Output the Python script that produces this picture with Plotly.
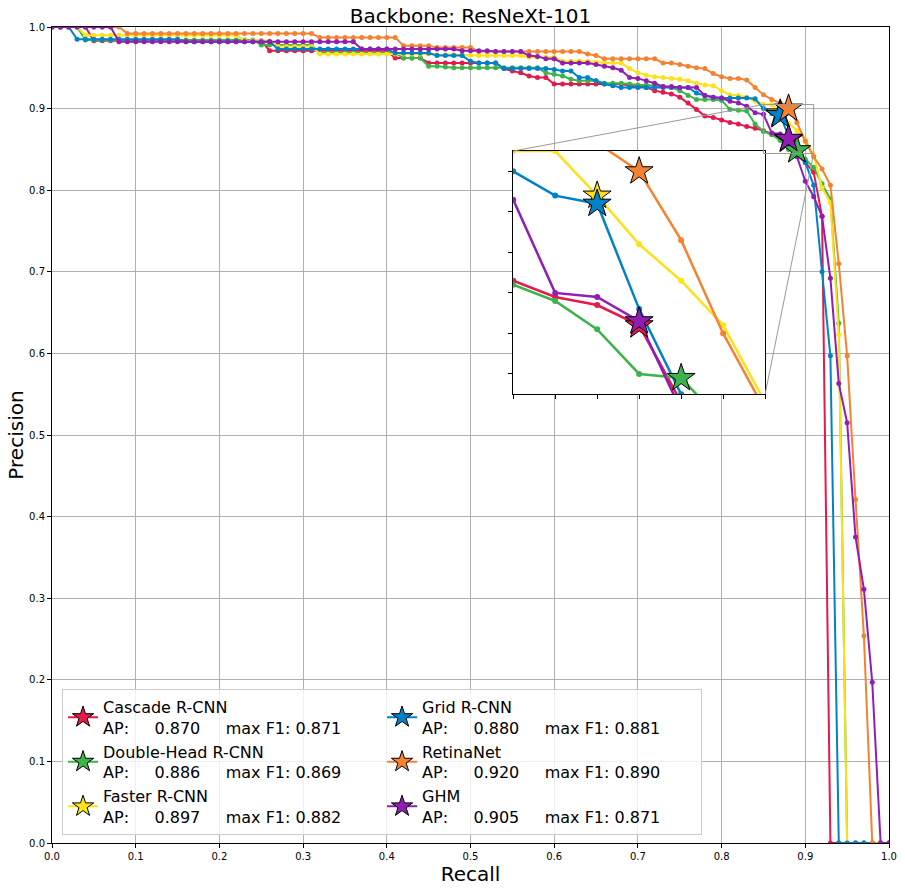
import plotly.graph_objects as go

# recall thresholds (COCO-style 101 points)
recall = [i / 100 for i in range(101)]

# precision, one value per recall threshold
cascade_rcnn = [
    1.0, 1.0, 1.0, 1.0, 1.0, 0.983, 0.983, 0.983, 0.983, 0.983,
    0.983, 0.983, 0.983, 0.983, 0.983, 0.983, 0.983, 0.983, 0.983, 0.983,
    0.983, 0.983, 0.983, 0.983, 0.983, 0.983, 0.971, 0.971, 0.971, 0.971,
    0.971, 0.971, 0.971, 0.971, 0.971, 0.971, 0.971, 0.971, 0.971, 0.971,
    0.971, 0.962, 0.962, 0.962, 0.962, 0.956, 0.956, 0.956, 0.956, 0.956,
    0.956, 0.956, 0.956, 0.956, 0.949, 0.946, 0.944, 0.940, 0.938, 0.938,
    0.930, 0.930, 0.930, 0.930, 0.930, 0.930, 0.930, 0.930, 0.930, 0.928,
    0.927, 0.926, 0.922, 0.920, 0.918, 0.914, 0.907, 0.899, 0.891, 0.889,
    0.886, 0.883, 0.881, 0.878, 0.876, 0.873, 0.869, 0.867, 0.862, 0.843,
    0.834, 0.822, 0.768, 0.0, 0.0, 0.0, 0.0, 0.0, 0.0, 0.0,
    0.0,
]
double_head_rcnn = [
    1.0, 1.0, 1.0, 1.0, 0.984, 0.984, 0.984, 0.984, 0.984, 0.984,
    0.984, 0.984, 0.984, 0.984, 0.984, 0.984, 0.984, 0.984, 0.984, 0.984,
    0.984, 0.984, 0.984, 0.984, 0.984, 0.978, 0.978, 0.978, 0.978, 0.978,
    0.978, 0.978, 0.968, 0.968, 0.968, 0.968, 0.968, 0.968, 0.968, 0.968,
    0.968, 0.968, 0.962, 0.962, 0.962, 0.952, 0.952, 0.951, 0.950, 0.950,
    0.950, 0.950, 0.950, 0.950, 0.950, 0.950, 0.950, 0.950, 0.950, 0.944,
    0.942, 0.940, 0.936, 0.934, 0.934, 0.934, 0.931, 0.931, 0.931, 0.930,
    0.929, 0.929, 0.928, 0.927, 0.926, 0.922, 0.916, 0.911, 0.911, 0.911,
    0.910, 0.899, 0.898, 0.897, 0.881, 0.872, 0.868, 0.861, 0.850, 0.849,
    0.838, 0.828, 0.808, 0.789, 0.637, 0.0, 0.0, 0.0, 0.0, 0.0,
    0.0,
]
faster_rcnn = [
    1.0, 1.0, 1.0, 1.0, 0.990, 0.990, 0.990, 0.990, 0.990, 0.990,
    0.990, 0.990, 0.990, 0.990, 0.990, 0.990, 0.990, 0.990, 0.990, 0.990,
    0.990, 0.990, 0.990, 0.983, 0.983, 0.983, 0.983, 0.976, 0.976, 0.976,
    0.976, 0.976, 0.967, 0.967, 0.967, 0.967, 0.967, 0.967, 0.967, 0.967,
    0.967, 0.967, 0.967, 0.967, 0.967, 0.967, 0.966, 0.966, 0.966, 0.966,
    0.965, 0.965, 0.965, 0.965, 0.965, 0.965, 0.965, 0.963, 0.963, 0.963,
    0.963, 0.958, 0.958, 0.958, 0.958, 0.957, 0.956, 0.956, 0.956, 0.949,
    0.944, 0.941, 0.939, 0.938, 0.937, 0.936, 0.934, 0.931, 0.929, 0.928,
    0.922, 0.917, 0.916, 0.914, 0.909, 0.905, 0.905, 0.894, 0.882, 0.873,
    0.862, 0.843, 0.803, 0.785, 0.623, 0.0, 0.0, 0.0, 0.0, 0.0,
    0.0,
]
grid_rcnn = [
    1.0, 1.0, 1.0, 0.985, 0.985, 0.985, 0.985, 0.985, 0.985, 0.985,
    0.985, 0.985, 0.985, 0.985, 0.985, 0.985, 0.982, 0.982, 0.982, 0.982,
    0.982, 0.982, 0.982, 0.982, 0.982, 0.982, 0.982, 0.973, 0.973, 0.973,
    0.973, 0.973, 0.973, 0.973, 0.973, 0.973, 0.973, 0.973, 0.973, 0.973,
    0.973, 0.968, 0.968, 0.968, 0.968, 0.968, 0.965, 0.965, 0.965, 0.965,
    0.958, 0.956, 0.956, 0.956, 0.949, 0.949, 0.949, 0.949, 0.949, 0.949,
    0.948, 0.946, 0.946, 0.938, 0.938, 0.934, 0.930, 0.928, 0.926, 0.926,
    0.926, 0.926, 0.926, 0.926, 0.926, 0.926, 0.926, 0.919, 0.916, 0.914,
    0.913, 0.913, 0.913, 0.913, 0.912, 0.900, 0.894, 0.892, 0.866, 0.845,
    0.834, 0.806, 0.700, 0.597, 0.0, 0.0, 0.0, 0.0, 0.0, 0.0,
    0.0,
]
retinanet = [
    1.0, 1.0, 1.0, 1.0, 1.0, 1.0, 1.0, 1.0, 1.0, 0.992,
    0.992, 0.992, 0.992, 0.992, 0.992, 0.992, 0.992, 0.992, 0.992, 0.992,
    0.992, 0.992, 0.992, 0.992, 0.992, 0.992, 0.992, 0.992, 0.992, 0.992,
    0.992, 0.992, 0.987, 0.987, 0.987, 0.987, 0.987, 0.987, 0.987, 0.987,
    0.987, 0.987, 0.977, 0.977, 0.977, 0.977, 0.975, 0.975, 0.975, 0.975,
    0.975, 0.970, 0.970, 0.970, 0.970, 0.970, 0.970, 0.970, 0.970, 0.970,
    0.970, 0.970, 0.970, 0.970, 0.967, 0.965, 0.961, 0.961, 0.961, 0.961,
    0.961, 0.961, 0.961, 0.956, 0.956, 0.954, 0.952, 0.950, 0.949, 0.943,
    0.939, 0.937, 0.937, 0.935, 0.926, 0.917, 0.911, 0.907, 0.900, 0.883,
    0.860, 0.841, 0.826, 0.806, 0.710, 0.597, 0.421, 0.254, 0.0, 0.0,
    0.0,
]
ghm = [
    1.0, 1.0, 1.0, 1.0, 1.0, 1.0, 1.0, 1.0, 0.982, 0.982,
    0.982, 0.982, 0.982, 0.982, 0.982, 0.982, 0.982, 0.982, 0.982, 0.982,
    0.982, 0.982, 0.982, 0.982, 0.982, 0.982, 0.982, 0.982, 0.982, 0.982,
    0.982, 0.982, 0.982, 0.982, 0.982, 0.982, 0.982, 0.973, 0.973, 0.973,
    0.973, 0.973, 0.973, 0.973, 0.973, 0.973, 0.973, 0.973, 0.973, 0.971,
    0.971, 0.971, 0.971, 0.970, 0.970, 0.970, 0.970, 0.965, 0.964, 0.961,
    0.961, 0.956, 0.956, 0.956, 0.956, 0.954, 0.952, 0.950, 0.947, 0.938,
    0.937, 0.934, 0.931, 0.927, 0.927, 0.926, 0.926, 0.926, 0.916, 0.914,
    0.913, 0.909, 0.907, 0.903, 0.895, 0.893, 0.870, 0.869, 0.863, 0.841,
    0.811, 0.792, 0.768, 0.692, 0.563, 0.515, 0.375, 0.311, 0.197, 0.0,
    0.0,
]

detectors = ["Cascade R-CNN", "Double-Head R-CNN", "Faster R-CNN",
             "Grid R-CNN", "RetinaNet", "GHM"]
precisions = [cascade_rcnn, double_head_rcnn, faster_rcnn, grid_rcnn, retinanet, ghm]
ap_scores = [0.870, 0.886, 0.897, 0.880, 0.920, 0.905]
max_f1_scores = [0.871, 0.869, 0.882, 0.881, 0.890, 0.871]
max_f1_recall = [0.88, 0.89, 0.87, 0.87, 0.88, 0.88]

colors = ["#e6194b", "#3cb44b", "#ffe119", "#0082c8", "#f58231", "#911eb4"]
legend_rank = [1, 3, 5, 2, 4, 6]   # two legend columns, filled row by row

# inset window (zoomed region) and where it sits on the page
zoom_x = [0.85, 0.91]
zoom_y = [0.845, 0.905]
inset_dom_x = [0.551, 0.852]
inset_dom_y = [0.550, 0.848]

nb = "\u00a0"

fig = go.Figure()

# the curves, on the main axes and again on the inset axes
for name, prec, color in zip(detectors, precisions, colors):
    fig.add_trace(go.Scatter(
        x=recall, y=prec, mode="lines+markers", name=name,
        line=dict(color=color, width=2), marker=dict(size=5, color=color),
        showlegend=False, hoverinfo="skip",
    ))
    fig.add_trace(go.Scatter(
        x=recall, y=prec, mode="lines+markers", name=name,
        line=dict(color=color, width=2.5), marker=dict(size=6, color=color),
        showlegend=False, hoverinfo="skip", xaxis="x2", yaxis="y2",
    ))

# max F1 stars
for name, prec, color, ap, f1, r_best, rank in zip(
        detectors, precisions, colors, ap_scores, max_f1_scores, max_f1_recall, legend_rank):
    idx = recall.index(r_best)
    label = f"{name}<br>AP:{nb * 5}{ap:.3f}{nb * 5}max F1: {f1:.3f}"
    star = dict(symbol="star", size=21, color=color, line=dict(color="black", width=1))
    fig.add_trace(go.Scatter(
        x=[recall[idx]], y=[prec[idx]], mode="lines+markers", name=label,
        line=dict(color=color, width=2), marker=star, legendrank=rank,
    ))
    fig.add_trace(go.Scatter(
        x=[recall[idx]], y=[prec[idx]], mode="markers", marker=star,
        showlegend=False, xaxis="x2", yaxis="y2",
    ))

axis_common = dict(
    showline=True, mirror=True, linecolor="black", linewidth=1,
    ticks="outside", ticklen=4, tickcolor="black", zeroline=False,
)

fig.update_layout(
    width=905, height=890,
    margin=dict(l=52, r=16, t=27, b=47),
    paper_bgcolor="white", plot_bgcolor="white",
    font=dict(family="DejaVu Sans", color="black"),
    title=dict(text="Backbone: ResNeXt-101", x=0.5, xref="paper", xanchor="center",
               y=0.982, yref="container", yanchor="middle", font=dict(size=20)),
    xaxis=dict(range=[0, 1], dtick=0.1, tickformat=".1f", showgrid=True,
               gridcolor="#b0b0b0", gridwidth=1, tickfont=dict(size=10),
               title=dict(text="Recall", font=dict(size=20), standoff=3),
               automargin=False, **axis_common),
    yaxis=dict(range=[0, 1], dtick=0.1, tickformat=".1f", showgrid=True,
               gridcolor="#b0b0b0", gridwidth=1, tickfont=dict(size=10),
               title=dict(text="Precision", font=dict(size=20), standoff=0),
               automargin=False, **axis_common),
    xaxis2=dict(domain=inset_dom_x, range=zoom_x, tick0=0.85, dtick=0.01,
                showticklabels=False, showgrid=False, anchor="y2", **axis_common),
    yaxis2=dict(domain=inset_dom_y, range=zoom_y, tick0=0.85, dtick=0.01,
                showticklabels=False, showgrid=False, anchor="x2", **axis_common),
    legend=dict(orientation="h", x=0.012, y=0.01, xanchor="left", yanchor="bottom",
                entrywidth=274, traceorder="normal",
                bgcolor="rgba(255,255,255,0.8)", bordercolor="#cccccc", borderwidth=1,
                font=dict(size=16)),
)

# zoom box on the main axes and the two connector lines to the inset
grey = dict(color="#999999", width=1)
fig.add_shape(type="rect", xref="x", yref="y", x0=zoom_x[0], x1=zoom_x[1],
              y0=zoom_y[0], y1=zoom_y[1], line=grey)
fig.add_shape(type="line", xref="x", yref="y", x0=zoom_x[0], y0=zoom_y[1],
              x1=inset_dom_x[0], y1=inset_dom_y[1], line=grey)
fig.add_shape(type="line", xref="x", yref="y", x0=zoom_x[1], y0=zoom_y[0],
              x1=inset_dom_x[1], y1=inset_dom_y[0], line=grey)

# drop the default 8px page margin so the figure fills the window exactly
fig.write_html("out.html", config=dict(displayModeBar=False),
               post_script="document.body.style.margin = '0';")
